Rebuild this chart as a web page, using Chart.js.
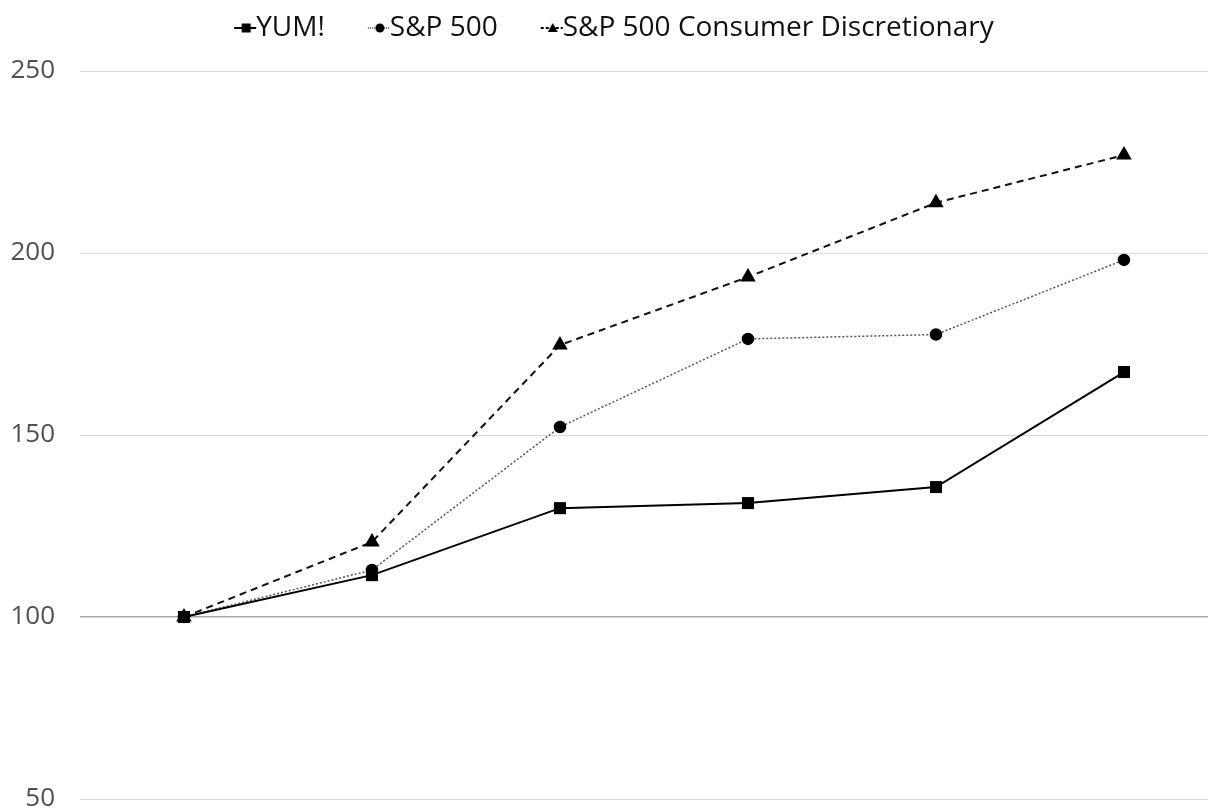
<!DOCTYPE html>
<html>
<head>
<meta charset="utf-8">
<script src="https://cdn.jsdelivr.net/npm/chart.js@4/dist/chart.umd.min.js"></script>
<style>
  html, body { margin: 0; padding: 0; background: #fff; overflow: hidden; }
  canvas { display: block; }
</style>
</head>
<body>
<canvas id="chart" width="1208" height="809"></canvas>
<script>
// values (index 100 at start)
const periods = [0, 1, 2, 3, 4, 5];
const yumValues = [100, 111.5, 129.9, 131.3, 135.7, 167.3];
const spValues = [100, 112.9, 152.2, 176.4, 177.6, 198.1];
const discValues = [100, 120.6, 174.7, 193.4, 213.8, 226.9];
const yTicks = [50, 100, 150, 200, 250];

const toPoints = (vals) => vals.map((v, i) => ({ x: periods[i], y: v }));

// little "line + marker" swatches for the legend, like the office legend
function legendSwatch(shape, dash, lineColor) {
  const c = document.createElement("canvas");
  c.width = 40;
  c.height = 14;
  const g = c.getContext("2d");
  g.strokeStyle = lineColor;
  g.lineWidth = 2;
  g.setLineDash(dash);
  g.beginPath();
  g.moveTo(14, 7);
  g.lineTo(36, 7);
  g.stroke();
  g.fillStyle = "#000";
  g.beginPath();
  if (shape === "rect") g.rect(21.5, 2.5, 9, 9);
  else if (shape === "circle") g.arc(26, 7, 4.5, 0, Math.PI * 2);
  else { g.moveTo(26, 2); g.lineTo(31, 11); g.lineTo(21, 11); g.closePath(); }
  g.fill();
  return c;
}
const swatches = [
  legendSwatch("rect", [], "#000"),
  legendSwatch("circle", [1, 1], "#777"),
  legendSwatch("triangle", [3, 2], "#000"),
];

// legend: keep wide gaps between items but a short box, nudged a bit right
const legendHeight = 104;
const legendShift = 12;
const fixLegend = {
  id: "fixLegend",
  afterInit(chart) {
    const lg = chart.legend;
    const fit = lg.fit;
    lg.fit = function () {
      fit.call(this);
      this.height = legendHeight;
    };
  },
  beforeDraw(chart) {
    chart.legend.left += legendShift;
    chart.legend.right += legendShift;
  },
  afterDraw(chart) {
    chart.legend.left -= legendShift;
    chart.legend.right -= legendShift;
  },
};

const ctx = document.getElementById("chart");

new Chart(ctx, {
  type: "line",
  data: {
    datasets: [
      {
        label: "YUM!",
        data: toPoints(yumValues),
        borderColor: "#000",
        backgroundColor: "#000",
        pointBorderColor: "#000",
        borderWidth: 2,
        pointStyle: "rect",
        pointRadius: 8.5,
        pointHoverRadius: 8.5,
        pointBorderWidth: 0,
      },
      {
        label: "S&P 500",
        data: toPoints(spValues),
        borderColor: "#555",
        backgroundColor: "#000",
        pointBorderColor: "#000",
        borderWidth: 1.5,
        borderDash: [2, 2],
        pointStyle: "circle",
        pointRadius: 5.5,
        pointHoverRadius: 5.5,
      },
      {
        label: "S&P 500 Consumer Discretionary",
        data: toPoints(discValues),
        borderColor: "#111",
        backgroundColor: "#000",
        pointBorderColor: "#000",
        borderWidth: 2,
        borderDash: [7, 5],
        pointStyle: "triangle",
        pointRadius: 7,
        pointHoverRadius: 7,
      },
    ],
  },
  plugins: [fixLegend],
  options: {
    responsive: false,
    animation: false,
    devicePixelRatio: 1,
    layout: { autoPadding: false, padding: { top: -33, bottom: 0, right: 0, left: 0 } },
    plugins: {
      tooltip: { enabled: false },
      legend: {
        position: "top",
        labels: {
          usePointStyle: true,
          boxWidth: 4,
          boxHeight: 14,
          padding: 47,
          color: "#111",
          font: { family: "Open Sans", size: 28 },
          generateLabels(chart) {
            const items = Chart.defaults.plugins.legend.labels.generateLabels(chart);
            items.forEach((it, i) => { it.pointStyle = swatches[i]; });
            return items;
          },
        },
      },
    },
    scales: {
      x: {
        type: "linear",
        min: -0.553,
        max: 5.447,
        display: false,
      },
      y: {
        min: 50,
        max: 250,
        afterFit: (s) => {
          s.width = 80;
          s.paddingTop = 0;
          s.paddingBottom = 10;
        },
        afterBuildTicks: (s) => { s.ticks = yTicks.map((v) => ({ value: v })); },
        border: { display: false },
        grid: {
          drawTicks: false,
          color: (c) => (c.tick && c.tick.value === 100 ? "#a6a6a6" : "#dadada"),
          lineWidth: (c) => (c.tick && c.tick.value === 100 ? 1.5 : 1),
        },
        ticks: {
          padding: 25,
          color: "#505050",
          font: { family: "Open Sans", size: 26 },
        },
      },
    },
  },
});
</script>
</body>
</html>
